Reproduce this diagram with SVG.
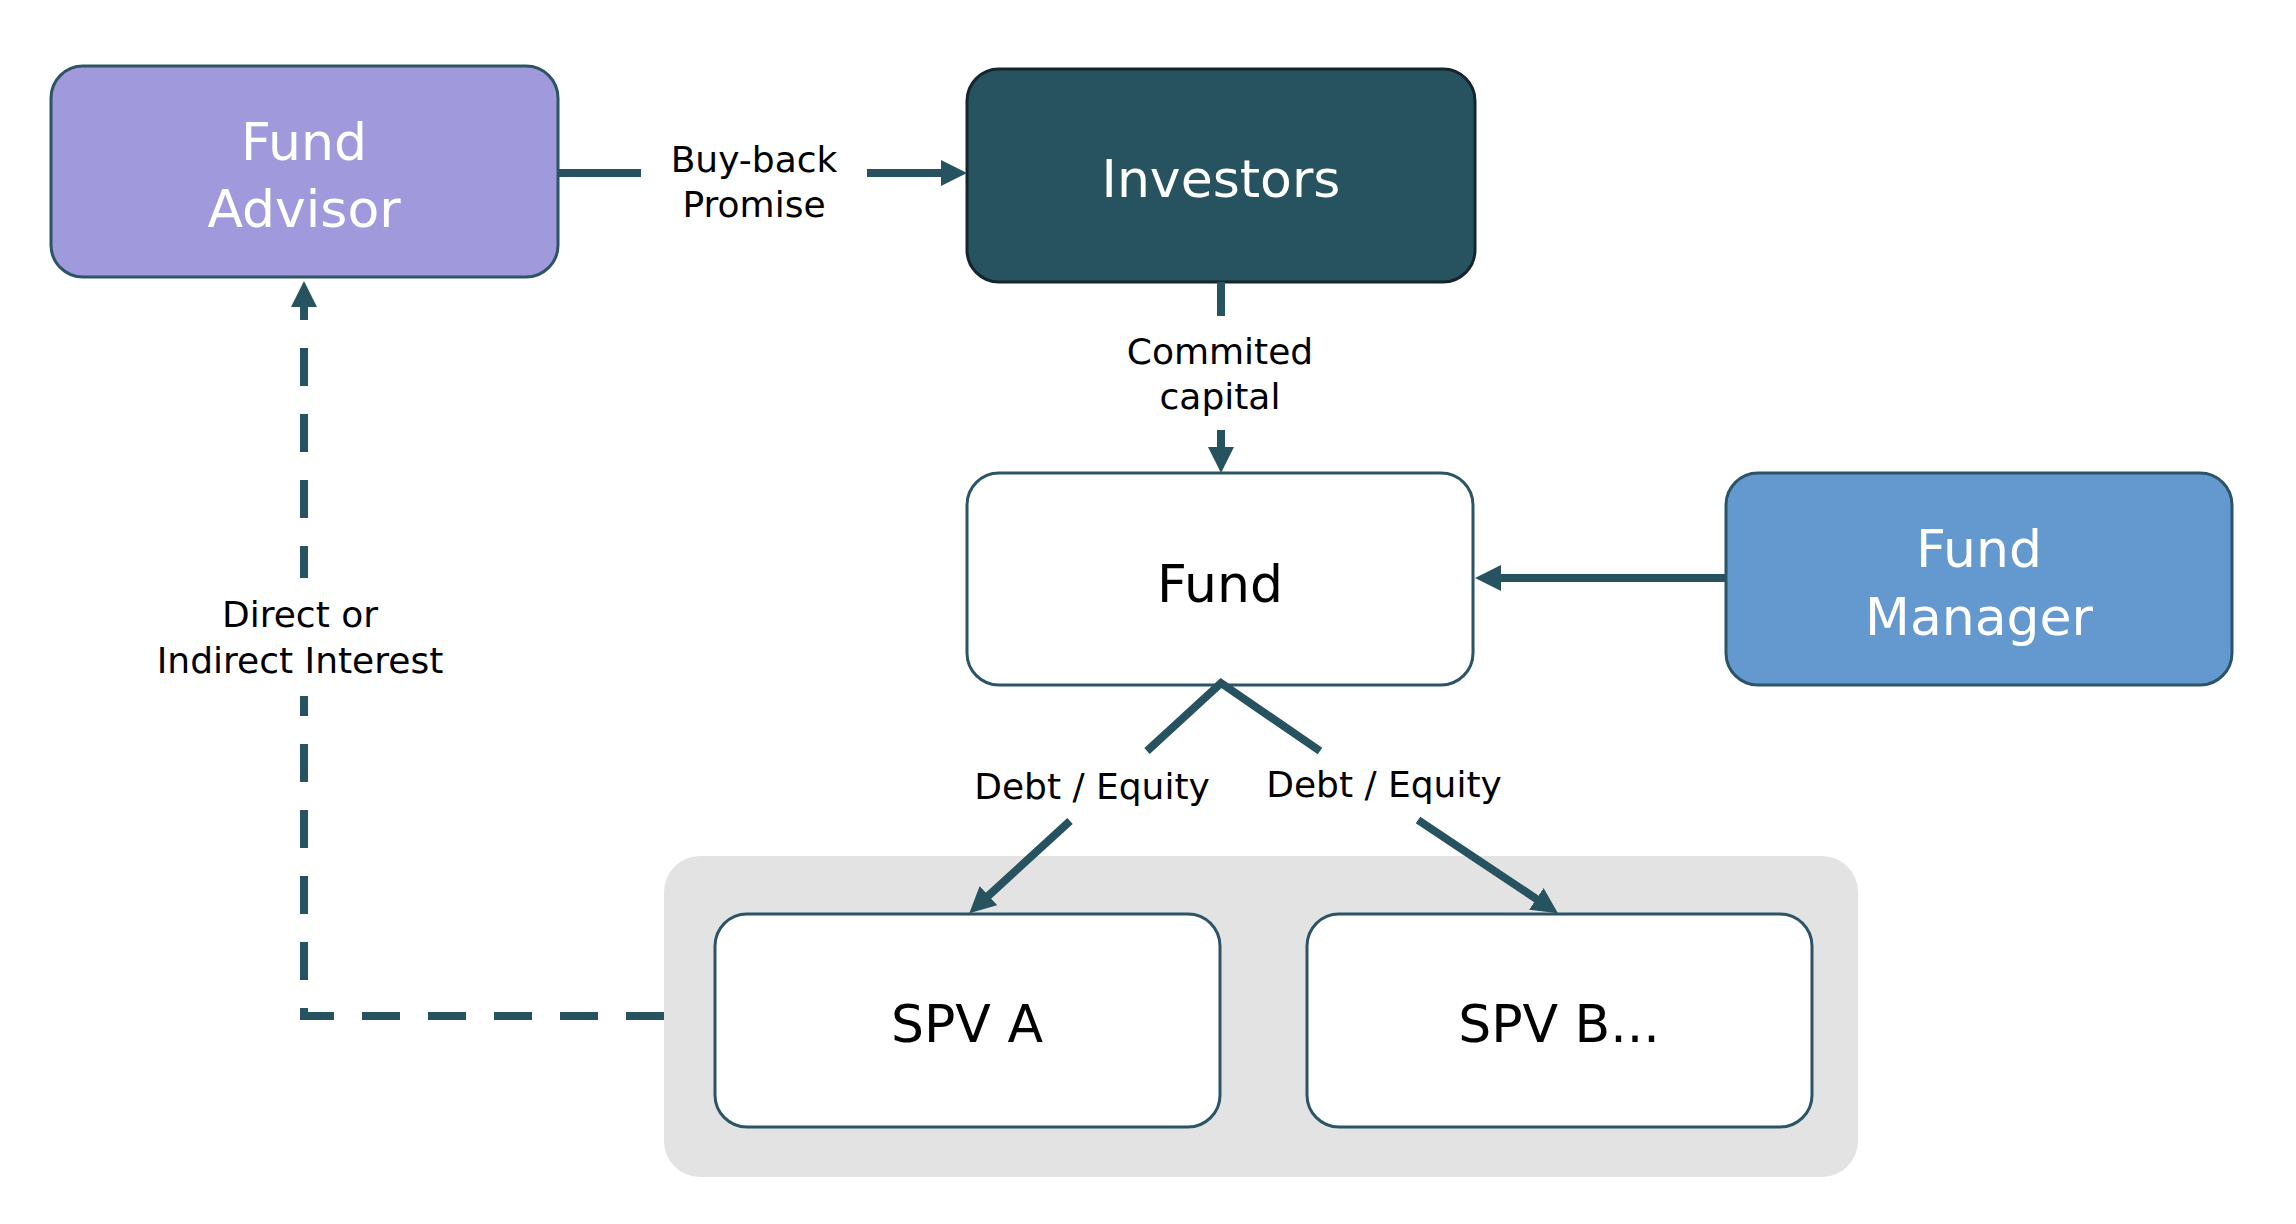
<svg xmlns="http://www.w3.org/2000/svg" width="2296" height="1224" viewBox="0 0 2296 1224">
  <style>
    .node { stroke: #2B5566; stroke-width: 3; }
    .big { font-family: "DejaVu Sans", sans-serif; font-size: 52px; text-anchor: middle; }
    .lbl { font-family: "DejaVu Sans", sans-serif; font-size: 36px; text-anchor: middle; fill: #000; }
    .conn { stroke: #26535F; stroke-width: 8; fill: none; }
  </style>
  <defs>
    <marker id="arr" markerUnits="userSpaceOnUse" markerWidth="26" markerHeight="26" viewBox="0 0 26 26" refX="2" refY="13" orient="auto">
      <path d="M0,0 L26,13 L0,26 z" fill="#26535F"/>
    </marker>
  </defs>
  <rect width="2296" height="1224" fill="#ffffff"/>

  <g id="spv-group">
    <rect x="664" y="856" width="1194" height="321" rx="36" fill="#E3E3E3"/>
  </g>

  <g id="fund-advisor">
    <rect class="node" x="51" y="66" width="507" height="211" rx="32" fill="#A09ADC"/>
    <text class="big" x="304" y="160" fill="#ffffff">Fund</text>
    <text class="big" x="304" y="227" fill="#ffffff">Advisor</text>
  </g>

  <g id="investors">
    <rect x="967" y="69" width="508" height="213" rx="32" fill="#26535F" stroke="#14262C" stroke-width="3"/>
    <text class="big" x="1221" y="197" fill="#ffffff">Investors</text>
  </g>

  <g id="fund">
    <rect class="node" x="967" y="473" width="506" height="212" rx="32" fill="#ffffff"/>
    <text class="big" x="1220" y="602" fill="#000000">Fund</text>
  </g>

  <g id="fund-manager">
    <rect class="node" x="1726" y="473" width="506" height="212" rx="32" fill="#6399CE"/>
    <text class="big" x="1979" y="567" fill="#ffffff">Fund</text>
    <text class="big" x="1979" y="635" fill="#ffffff">Manager</text>
  </g>

  <g id="spv-a">
    <rect class="node" x="715" y="914" width="505" height="213" rx="32" fill="#ffffff"/>
    <text class="big" x="967" y="1042" fill="#000000">SPV A</text>
  </g>

  <g id="spv-b">
    <rect class="node" x="1307" y="914" width="505" height="213" rx="32" fill="#ffffff"/>
    <text class="big" x="1559" y="1042" fill="#000000">SPV B...</text>
  </g>

  <g id="connectors">
    <!-- Fund Advisor -> Investors -->
    <line class="conn" x1="558" y1="173" x2="641" y2="173"/>
    <line class="conn" x1="867" y1="173" x2="943" y2="173" marker-end="url(#arr)"/>
    <!-- Investors -> Fund -->
    <line class="conn" x1="1221" y1="282" x2="1221" y2="316"/>
    <line class="conn" x1="1221" y1="430" x2="1221" y2="449" marker-end="url(#arr)"/>
    <!-- Fund Manager -> Fund -->
    <line class="conn" x1="1726" y1="578" x2="1499" y2="578" marker-end="url(#arr)"/>
    <!-- Fund -> SPVs -->
    <path class="conn" d="M1147,751 L1221,683 L1320,751" stroke-linejoin="miter"/>
    <line class="conn" x1="1070" y1="821" x2="987" y2="897" marker-end="url(#arr)"/>
    <line class="conn" x1="1418" y1="820" x2="1538" y2="900" marker-end="url(#arr)"/>
    <!-- SPV group -> Fund Advisor (dashed) -->
    <path class="conn" d="M664,1016 L304,1016 L304,305" stroke-dasharray="38 28" stroke-linejoin="miter" marker-end="url(#arr)"/>
  </g>

  <g id="labels">
    <text class="lbl" x="754" y="172">Buy-back</text>
    <text class="lbl" x="754" y="217">Promise</text>
    <text class="lbl" x="1220" y="364">Commited</text>
    <text class="lbl" x="1220" y="409">capital</text>
    <rect x="280" y="578" width="48" height="118" fill="#ffffff"/>
    <text class="lbl" x="300" y="627">Direct or</text>
    <text class="lbl" x="300" y="673">Indirect Interest</text>
    <text class="lbl" x="1092" y="799">Debt / Equity</text>
    <text class="lbl" x="1384" y="797">Debt / Equity</text>
  </g>
</svg>
